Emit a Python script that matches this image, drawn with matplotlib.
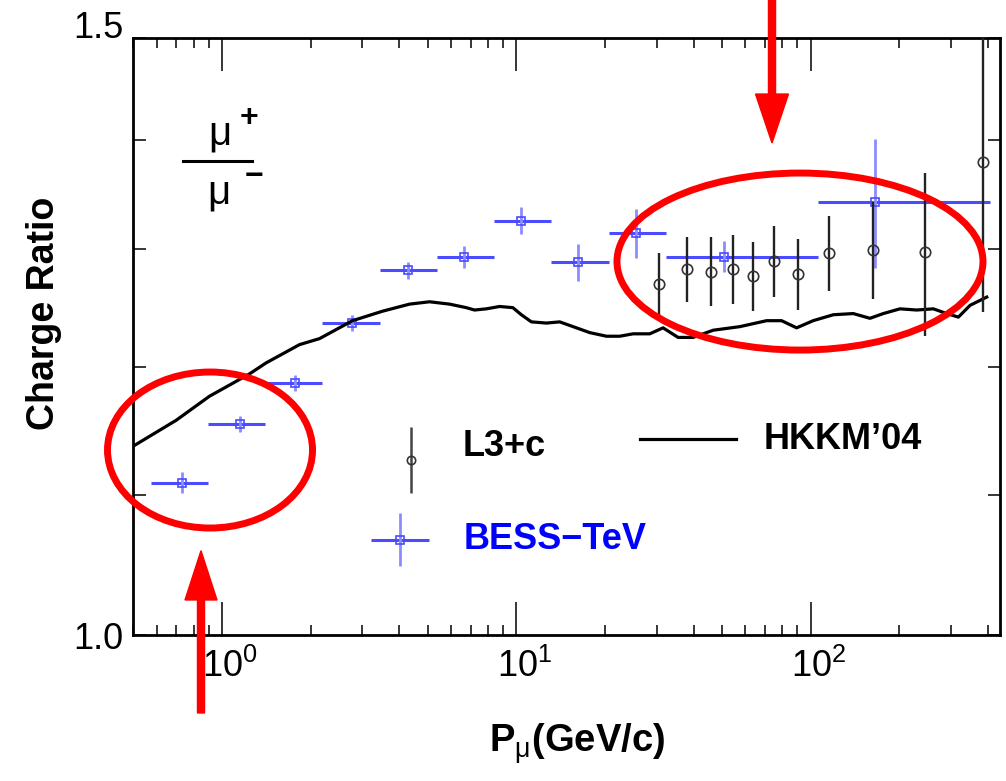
import numpy as np
import matplotlib.pyplot as plt
from matplotlib.patches import Ellipse, FancyArrow
from matplotlib.ticker import LogLocator, NullFormatter
from matplotlib.transforms import ScaledTranslation

plt.rcParams['font.family'] = ['Liberation Sans', 'DejaVu Sans']
plt.rcParams['mathtext.fontset'] = 'custom'
plt.rcParams['mathtext.rm'] = 'Liberation Sans'
plt.rcParams['mathtext.bf'] = 'Liberation Sans:bold'
plt.rcParams['mathtext.it'] = 'Liberation Sans:italic'

# HKKM'04 calculation
hkkm_p = [0.5, 0.698, 0.905, 1.238, 1.411, 1.832, 2.143, 2.775, 3.51, 4.335,
          5.07, 5.93, 6.76, 7.21, 7.91, 8.77, 9.73, 10.40, 11.25, 12.65,
          14.04, 16.00, 17.76, 20.24, 22.46, 24.93, 28.41, 31.52, 35.45, 39.88,
          46.64, 57.47, 70.86, 79.69, 89.6, 102.0, 119.4, 139.6, 159.1, 176.6,
          201.2, 229.4, 261.2, 290.1, 317.8, 348.3, 396.8]
hkkm_ratio = [1.137, 1.157, 1.176, 1.194, 1.203, 1.218, 1.223, 1.238, 1.246, 1.252,
              1.254, 1.252, 1.249, 1.247, 1.248, 1.250, 1.249, 1.243, 1.237, 1.236,
              1.237, 1.232, 1.228, 1.225, 1.225, 1.227, 1.227, 1.232, 1.224, 1.224,
              1.230, 1.233, 1.238, 1.238, 1.232, 1.238, 1.243, 1.244, 1.240, 1.244,
              1.248, 1.247, 1.248, 1.244, 1.241, 1.251, 1.258]

# L3+c measurements
l3_p = [30.5, 38.0, 46.0, 54.3, 63.5, 74.8, 90.5, 115.1, 162.5, 244.8, 386.5]
l3_ratio = [1.269, 1.282, 1.280, 1.282, 1.276, 1.289, 1.278, 1.296, 1.299, 1.297, 1.379]
l3_err = [0.027, 0.028, 0.030, 0.030, 0.030, 0.031, 0.031, 0.033, 0.043, 0.072, 0.134]

# BESS-TeV measurements (bin centre and edges)
bess_p = [0.733, 1.148, 1.775, 2.76, 4.30, 6.63, 10.40, 16.20, 25.5, 50.7, 165.5]
bess_lo = [0.573, 0.894, 1.404, 2.183, 3.43, 5.36, 8.40, 13.15, 20.6, 32.2, 106.0]
bess_hi = [0.894, 1.404, 2.183, 3.43, 5.36, 8.40, 13.15, 20.6, 32.2, 106.0, 408.0]
bess_ratio = [1.109, 1.154, 1.187, 1.236, 1.281, 1.293, 1.325, 1.288, 1.314, 1.293, 1.342]
bess_err = [0.008, 0.0065, 0.0065, 0.0065, 0.0075, 0.0095, 0.012, 0.016, 0.022, 0.0135, 0.059]

xtick_vals = [1, 10, 100]
xtick_labels = [r'$\mathregular{10^{0}}$', r'$\mathregular{10^{1}}$', r'$\mathregular{10^{2}}$']
ytick_vals = [1.0, 1.5]
ytick_labels = ['1.0', '1.5']

blue = '#4b4bff'
light_blue = '#8c8cff'
red = '#ff0000'

fig = plt.figure(figsize=(10.06, 7.81), dpi=100)
ax = fig.add_axes([0.1327, 0.1869, 0.8613, 0.7644])
ax.set_xscale('log')
ax.set_yscale('log')

ax.plot(hkkm_p, hkkm_ratio, color='black', lw=2.3, zorder=3)

bess_p_arr = np.array(bess_p)
bess_xerr = [bess_p_arr - np.array(bess_lo), np.array(bess_hi) - bess_p_arr]
ax.errorbar(bess_p, bess_ratio, xerr=bess_xerr, fmt='none', ecolor=blue,
            elinewidth=2.2, capsize=0, zorder=2)
ax.errorbar(bess_p, bess_ratio, yerr=bess_err, fmt='s', ms=5.5, mfc='none',
            mec=blue, mew=1.2, ecolor=light_blue, elinewidth=2.0, capsize=0, zorder=2)

ax.errorbar(l3_p, l3_ratio, yerr=l3_err, fmt='o', ms=7.5, mfc='none', mec='#333333',
            mew=1.2, ecolor='#222222', elinewidth=1.7, capsize=0, zorder=4)

ax.set_xlim(0.5, 440)
ax.set_ylim(1.0, 1.5)

ax.set_xticks(xtick_vals, labels=xtick_labels)
ax.xaxis.set_minor_locator(LogLocator(base=10, subs=np.arange(2, 10)))
ax.xaxis.set_minor_formatter(NullFormatter())
ax.set_yticks(ytick_vals, labels=ytick_labels)
ax.set_yticks([1.1, 1.2, 1.3, 1.4], minor=True)
ax.yaxis.set_minor_formatter(NullFormatter())

ax.tick_params(which='both', direction='in', top=True, right=True, width=1.1,
               labelsize=26)
ax.tick_params(axis='x', which='major', length=24, pad=10)
ax.tick_params(axis='x', which='minor', length=7.5)
ax.tick_params(axis='y', which='major', length=9, pad=7)
ax.tick_params(axis='y', which='minor', length=9)
for sp in ax.spines.values():
    sp.set_linewidth(2.0)

# exponent sticks out to the right of the "10"
for lab in ax.get_xticklabels():
    lab.set_transform(lab.get_transform() + ScaledTranslation(0.08, 0, fig.dpi_scale_trans))
ax.get_yticklabels()[1].set_verticalalignment('baseline')

ax.set_ylabel('Charge Ratio', fontsize=27, fontweight='bold')
ax.yaxis.set_label_coords(-0.0825, 0.5385)
ax.set_xlabel(r'$\mathbf{P}_{\mathrm{\mu}}\mathbf{(GeV/c)}$', fontsize=27.5)
ax.xaxis.set_label_coords(0.5118, -0.145)

# mu+/mu- fraction
ax.text(0.0998, 0.8224, 'μ', fontsize=29, ha='center', va='baseline', transform=ax.transAxes)
ax.text(0.1327, 0.8668, '+', fontsize=23, fontweight='bold', ha='center', va='center',
        transform=ax.transAxes)
ax.plot([0.057, 0.1368], [0.794, 0.794], color='black', lw=2.2, transform=ax.transAxes)
ax.text(0.0987, 0.7236, 'μ', fontsize=29, ha='center', va='baseline', transform=ax.transAxes)
ax.text(0.1391, 0.767, '\u2212', fontsize=23, fontweight='bold', ha='center', va='center',
        transform=ax.transAxes)

# legend keys drawn by hand
ax.errorbar([0.3205], [0.293], yerr=[[0.055], [0.055]], fmt='o', ms=6, mfc='none',
            mec='#333333', mew=1.2, ecolor='#444444', elinewidth=1.8, capsize=0,
            transform=ax.transAxes, clip_on=False)
ax.text(0.3803, 0.315, 'L3+c', fontsize=26, fontweight='bold', ha='left', va='center',
        transform=ax.transAxes)
ax.plot([0.585, 0.695], [0.328, 0.328], color='black', lw=2.3, transform=ax.transAxes)
ax.text(0.7276, 0.328, 'HKKM\u201904', fontsize=26, fontweight='bold', ha='left',
        va='center', transform=ax.transAxes)
ax.errorbar([0.3075], [0.160], xerr=[[0.033], [0.033]], fmt='none', ecolor=blue,
            elinewidth=2.2, capsize=0, transform=ax.transAxes)
ax.errorbar([0.3075], [0.160], yerr=[[0.044], [0.044]], fmt='s', ms=5.5, mfc='none',
            mec=blue, mew=1.2, ecolor=light_blue, elinewidth=2.0, capsize=0,
            transform=ax.transAxes)
ax.text(0.3814, 0.160, 'BESS\u2212TeV', fontsize=26, fontweight='bold', color='#0000ff',
        ha='left', va='center', transform=ax.transAxes)

# red highlights
ax.add_patch(Ellipse((0.0883, 0.3099), 0.2366, 0.2613, fill=False, ec=red, lw=5,
                     transform=ax.transAxes, clip_on=False, zorder=6))
ax.add_patch(Ellipse((0.7692, 0.6256), 0.4224, 0.2965, fill=False, ec=red, lw=5,
                     transform=ax.transAxes, clip_on=False, zorder=6))
fig.add_artist(FancyArrow(0.7674, 1.0, 0, -0.1831, width=0.007, head_width=0.0328,
                          head_length=0.0627, length_includes_head=True, color=red,
                          transform=fig.transFigure))
fig.add_artist(FancyArrow(0.1998, 0.0871, 0, 0.2078, width=0.007, head_width=0.0318,
                          head_length=0.0631, length_includes_head=True, color=red,
                          transform=fig.transFigure))

fig.savefig('out.png', dpi=100)
